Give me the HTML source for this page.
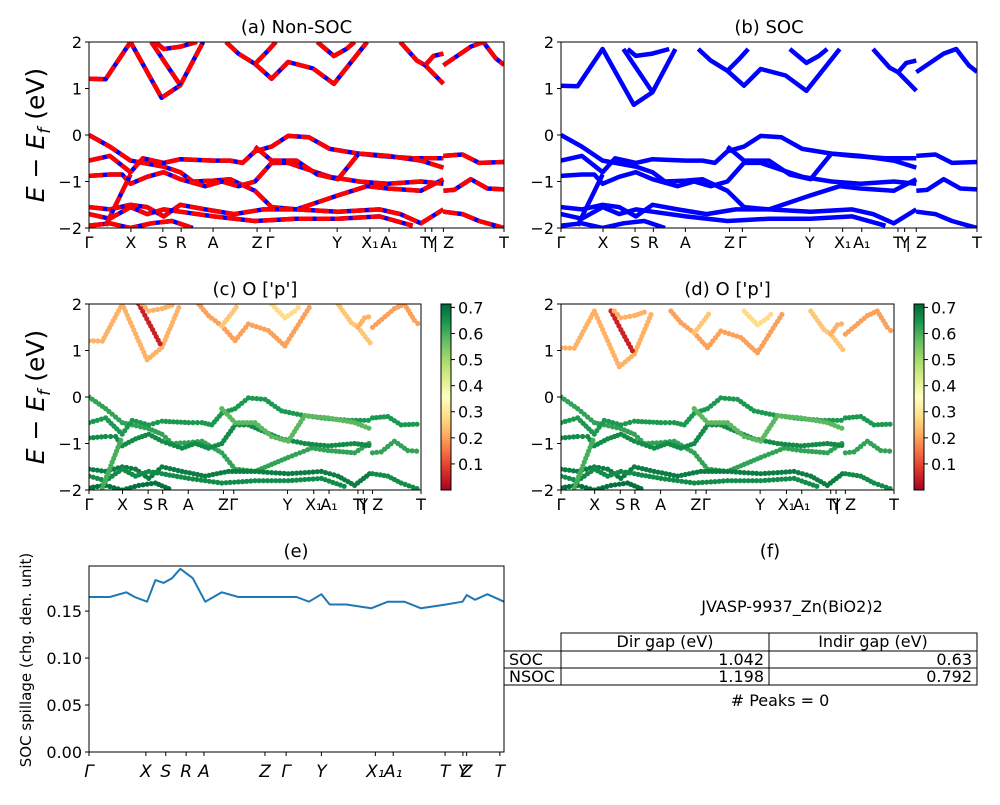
<!DOCTYPE html>
<html><head><meta charset="utf-8"><style>
body{margin:0;background:#fff}
svg{font-family:"DejaVu Sans","Liberation Sans",sans-serif}
</style></head><body>
<svg id="s" width="1000" height="800" viewBox="0 0 1000 800" xmlns="http://www.w3.org/2000/svg">
<defs>
<linearGradient id="rdylgn" x1="0" y1="1" x2="0" y2="0">
<stop offset="0" stop-color="#a50026"/><stop offset="0.1" stop-color="#d73027"/><stop offset="0.2" stop-color="#f46d43"/><stop offset="0.3" stop-color="#fdae61"/><stop offset="0.4" stop-color="#fee08b"/><stop offset="0.5" stop-color="#ffffbf"/><stop offset="0.6" stop-color="#d9ef8b"/><stop offset="0.7" stop-color="#a6d96a"/><stop offset="0.8" stop-color="#66bd63"/><stop offset="0.9" stop-color="#1a9850"/><stop offset="1" stop-color="#006837"/>
</linearGradient>
</defs>
<g font-size="16">
<text x="770" y="557" text-anchor="middle" font-size="18">(f)</text>
<text x="792" y="612" text-anchor="middle">JVASP-9937_Zn(BiO2)2</text>
<g fill="none" stroke="#000">
<rect x="561" y="633" width="208" height="18"/><rect x="769" y="633" width="208" height="18"/>
<rect x="504" y="651" width="57" height="17"/><rect x="561" y="651" width="208" height="17"/><rect x="769" y="651" width="208" height="17"/>
<rect x="504" y="668" width="57" height="17"/><rect x="561" y="668" width="208" height="17"/><rect x="769" y="668" width="208" height="17"/>
</g>
<text x="665" y="647" text-anchor="middle">Dir gap (eV)</text><text x="873" y="647" text-anchor="middle">Indir gap (eV)</text>
<text x="509" y="665">SOC</text><text x="764" y="665" text-anchor="end">1.042</text><text x="972" y="665" text-anchor="end">0.63</text>
<text x="509" y="682">NSOC</text><text x="764" y="682" text-anchor="end">1.198</text><text x="972" y="682" text-anchor="end">0.792</text>
<text x="780" y="706" text-anchor="middle"># Peaks = 0</text>
</g>
</svg>
<script>
// ---- data ----
const kTickPos=[0,0.101,0.178,0.222,0.299,0.405,0.436,0.598,0.677,0.723,0.81,0.826,0.854,1];
const kTickLab=['Γ','X','S','R','A','Z','Γ','Y','X₁','A₁','T','Y','| Z','T'];
const bandC1=[[0,1.21],[0.04,1.2],[0.1,2.0],[0.175,0.8],[0.22,1.07],[0.275,2.0]];
const bandC1b=[[0.33,2.0],[0.36,1.75],[0.40,1.53],[0.44,1.21],[0.48,1.57],[0.54,1.43],[0.59,1.1],[0.67,2.0]];
const bandC2=[[0.15,2.0],[0.18,1.6],[0.22,1.07]];
const bandC3=[[0.16,2.0],[0.18,1.85],[0.22,1.9],[0.26,2.0]];
const bandC4=[[0.40,1.53],[0.43,1.8],[0.45,2.0]];
const bandC5=[[0.55,2.0],[0.59,1.7],[0.62,1.85],[0.64,2.0]];
const bandC6=[[0.75,2.0],[0.79,1.6],[0.81,1.5],[0.854,1.1]];
const bandC7=[[0.81,1.5],[0.83,1.7],[0.854,1.75]];
const bandC8=[[0.854,1.5],[0.92,1.9],[0.95,2.0],[0.98,1.65],[1.0,1.51]];
const bandV1=[[0,0],[0.05,-0.25],[0.1,-0.55],[0.13,-0.6],[0.18,-0.68],[0.22,-0.8],[0.25,-1.0],[0.3,-0.98],[0.34,-0.95],[0.4,-1.2],[0.44,-1.55],[0.5,-1.6],[0.55,-1.45],[0.6,-1.3],[0.67,-1.1],[0.72,-1.15],[0.8,-1.2],[0.854,-0.95]];
const bandV2=[[0,-0.55],[0.05,-0.45],[0.1,-0.8],[0.13,-0.5],[0.18,-0.6],[0.22,-0.52],[0.3,-0.55],[0.34,-0.55],[0.37,-0.6],[0.4,-0.35],[0.44,-0.25],[0.48,-0.02],[0.53,-0.05],[0.58,-0.3],[0.65,-0.4],[0.7,-0.45],[0.78,-0.5],[0.854,-0.5]];
const bandV3=[[0,-0.88],[0.05,-0.85],[0.08,-0.85],[0.1,-1.05],[0.14,-0.9],[0.18,-0.8],[0.22,-0.95],[0.28,-1.1],[0.32,-1.0],[0.36,-1.1],[0.4,-1.0],[0.44,-0.6],[0.48,-0.6],[0.53,-0.75],[0.58,-0.9],[0.65,-1.0],[0.72,-1.05],[0.8,-1.0],[0.854,-1.05]];
const bandV4=[[0.4,-0.25],[0.44,-0.55],[0.5,-0.55],[0.55,-0.85],[0.6,-0.95],[0.65,-0.4],[0.72,-0.45],[0.8,-0.55],[0.854,-0.7]];
const bandV5=[[0,-1.55],[0.05,-1.6],[0.1,-1.5],[0.14,-1.55],[0.18,-1.75],[0.22,-1.5],[0.28,-1.6],[0.35,-1.7],[0.42,-1.6],[0.5,-1.6],[0.6,-1.65],[0.7,-1.6],[0.75,-1.7],[0.8,-1.9],[0.854,-1.6]];
const bandV6=[[0,-1.7],[0.05,-1.8],[0.1,-1.55],[0.14,-1.7],[0.18,-1.6],[0.22,-1.65],[0.3,-1.75],[0.4,-1.85],[0.5,-1.8],[0.6,-1.8],[0.7,-1.75],[0.78,-1.95]];
const bandV7=[[0,-1.95],[0.05,-1.9],[0.1,-2.0],[0.15,-1.9],[0.2,-1.85],[0.25,-2.0]];
const bandV8=[[0.04,-1.95],[0.1,-0.85]];
const bandR1=[[0.854,-0.45],[0.9,-0.42],[0.94,-0.6],[1.0,-0.58]];
const bandR2=[[0.854,-1.2],[0.88,-1.18],[0.92,-0.95],[0.96,-1.15],[1.0,-1.17]];
const bandR3=[[0.854,-1.65],[0.9,-1.7],[0.94,-1.85],[1.0,-2.0]];
const condBands=[bandC1,bandC1b,bandC2,bandC3,bandC4,bandC5,bandC6,bandC7,bandC8];
const valBands=[bandV1,bandV2,bandV3,bandV4,bandV5,bandV6,bandV7,bandV8,bandR1,bandR2,bandR3];
const condWeight=[0.22,0.2,0.05,0.22,0.25,0.28,0.25,0.22,0.2];
const valWeight=[0.62,0.64,0.66,0.58,0.68,0.66,0.7,0.6,0.64,0.62,0.66];
const socShift=-0.15;
const spillX=[0,0.05,0.09,0.11,0.14,0.16,0.18,0.2,0.22,0.25,0.28,0.32,0.36,0.44,0.5,0.53,0.56,0.58,0.62,0.68,0.72,0.76,0.8,0.86,0.9,0.91,0.93,0.96,1.0];
const spillY=[0.165,0.165,0.17,0.165,0.16,0.183,0.18,0.185,0.195,0.185,0.16,0.17,0.165,0.165,0.165,0.16,0.168,0.157,0.157,0.153,0.16,0.16,0.153,0.157,0.16,0.167,0.162,0.168,0.16];
const spillTicks=[0,0.05,0.10,0.15];
const spillTickPos=[0,0.137,0.185,0.234,0.277,0.424,0.475,0.56,0.69,0.733,0.858,0.901,0.91,0.99];
const spillTickLab=['Γ','X','S','R','A','Z','Γ','Y','X₁','A₁','T','Y','Z','T'];
const eTicks=[2,1,0,-1,-2];
const cbTicks=[0.1,0.2,0.3,0.4,0.5,0.6,0.7];

const S=document.getElementById('s');const NS='http://www.w3.org/2000/svg';
function mk(t,a,p){const e=document.createElementNS(NS,t);for(const k in a)e.setAttribute(k,a[k]);(p||S).appendChild(e);return e;}
function txt(x,y,s,o,p){o=o||{};const e=mk('text',Object.assign({x:x,y:y,'font-size':16,'text-anchor':'middle',fill:'#000'},o),p);e.textContent=s;return e;}
function rdylgn(v){const st=['#a50026','#d73027','#f46d43','#fdae61','#fee08b','#ffffbf','#d9ef8b','#a6d96a','#66bd63','#1a9850','#006837'];
 let t=Math.max(0,Math.min(1,v/0.713))*10;const i=Math.min(9,Math.floor(t)),f=t-i;
 const a=st[i],b=st[i+1];const c=j=>Math.round(parseInt(a.substr(j,2),16)*(1-f)+parseInt(b.substr(j,2),16)*f);
 return 'rgb('+c(1)+','+c(3)+','+c(5)+')';}

function panel(name,x0,x1,y0,y1,title,mode,yl,cb){
 const g=mk('g',{});
 const cp='cp'+name;const c=mk('clipPath',{id:cp},g);mk('rect',{x:x0,y:y0,width:x1-x0,height:y1-y0},c);
 const X=f=>x0+f*(x1-x0), Y=e=>y0+(2-e)/4*(y1-y0);
 const plot=mk('g',{'clip-path':'url(#'+cp+')',},g);
 const shift=mode==='soc'||mode==='dsoc'?socShift:0;
 const all=condBands.map((b,i)=>({b,w:condWeight[i],s:shift})).concat(valBands.map((b,i)=>({b,w:valWeight[i],s:0})));
 all.forEach(o=>{
  const pts=o.b.map(p=>X(p[0]).toFixed(1)+','+Y(p[1]+o.s).toFixed(1)).join(' ');
  if(mode==='nsoc'){
   const l1=mk('polyline',{points:pts,fill:'none',stroke:'#0000ff','stroke-width':4.5,'stroke-linejoin':'round'},plot);
   
   mk('polyline',{points:pts,fill:'none',stroke:'#ff0000','stroke-width':4.5,'stroke-dasharray':'14 4','stroke-linejoin':'round'},plot);
  }else if(mode==='soc'){
   const l=mk('polyline',{points:pts,fill:'none',stroke:'#0000ff','stroke-width':4.5,'stroke-linejoin':'round'},plot);
   
  }else{
   for(let k=0;k<o.b.length-1;k++){
    const ax=X(o.b[k][0]),ay=Y(o.b[k][1]+o.s),bx=X(o.b[k+1][0]),by=Y(o.b[k+1][1]+o.s);
    const n=Math.max(1,Math.round(Math.hypot(bx-ax,by-ay)/4));
    for(let j=0;j<n;j++){const t=j/n;
     const d=mk('circle',{cx:(ax+(bx-ax)*t).toFixed(1),cy:(ay+(by-ay)*t).toFixed(1),r:2.6,fill:rdylgn(o.w)},plot);
     }
   }
  }
 });
 mk('rect',{x:x0,y:y0,width:x1-x0,height:y1-y0,fill:'none',stroke:'#000','stroke-width':1},g);
 eTicks.forEach(e=>{mk('line',{x1:x0-4,x2:x0,y1:Y(e),y2:Y(e),stroke:'#000'},g);txt(x0-7,Y(e)+6,e<0?'−'+(-e):String(e),{'text-anchor':'end'},g);});
 kTickPos.forEach((f,i)=>{mk('line',{x1:X(f),x2:X(f),y1:y1,y2:y1+4,stroke:'#000'},g);txt(X(f),y1+20,kTickLab[i],{},g);});
 txt((x0+x1)/2,y0-9,title,{'font-size':18},g);
 if(yl){const t=mk('text',{x:0,y:0,'font-size':25,'text-anchor':'middle',transform:'translate(44,'+((y0+y1)/2)+') rotate(-90)'},g);
  t.innerHTML='<tspan font-style="italic">E</tspan> − <tspan font-style="italic">E</tspan><tspan font-style="italic" font-size="17" dy="6">f</tspan><tspan dy="-6"> (eV)</tspan>';}
 if(cb){const cx=cb;mk('rect',{x:cx,y:y0,width:10,height:y1-y0,fill:'url(#rdylgn)',stroke:'#000'},g);
  cbTicks.forEach(v=>{const yy=y1-v/0.713*(y1-y0);mk('line',{x1:cx+10,x2:cx+14,y1:yy,y2:yy,stroke:'#000'},g);txt(cx+17,yy+6,v.toFixed(1),{'text-anchor':'start'},g);});}
}
panel('panel-a-nonsoc',89,504,42,228,'(a) Non-SOC','nsoc',true,0);
panel('panel-b-soc',561,977,42,228,'(b) SOC','soc',false,0);
panel('panel-c-orbital',89,421,304,490,"(c)  O ['p']",'dots',true,441);
panel('panel-d-orbital',561,894,304,490,"(d) O ['p']",'dsoc',false,914);

// panel e
(function(){const x0=89,x1=504,y0=566,y1=752;const g=mk('g',{});
 const X=f=>x0+f*(x1-x0),Y=v=>y1-v/0.198*(y1-y0);
 const l=mk('polyline',{points:spillX.map((f,i)=>X(f).toFixed(1)+','+Y(spillY[i]).toFixed(1)).join(' '),fill:'none',stroke:'#1f77b4','stroke-width':2,'stroke-linejoin':'round'},g);
 
 mk('rect',{x:x0,y:y0,width:x1-x0,height:y1-y0,fill:'none',stroke:'#000'},g);
 spillTicks.forEach(v=>{mk('line',{x1:x0-4,x2:x0,y1:Y(v),y2:Y(v),stroke:'#000'},g);txt(x0-7,Y(v)+6,v.toFixed(2),{'text-anchor':'end'},g);});
 spillTickPos.forEach((f,i)=>{mk('line',{x1:X(f),x2:X(f),y1:y1,y2:y1+4,stroke:'#000'},g);txt(X(f),y1+25,spillTickLab[i],{'font-style':'italic','font-size':17},g);});
 txt(296,557,'(e)',{'font-size':18},g);
 const t=mk('text',{x:0,y:0,'font-size':15,'text-anchor':'middle',transform:'translate(31,660) rotate(-90)'},g);t.textContent='SOC spillage (chg. den. unit)';
})();
</script>
</body></html>
